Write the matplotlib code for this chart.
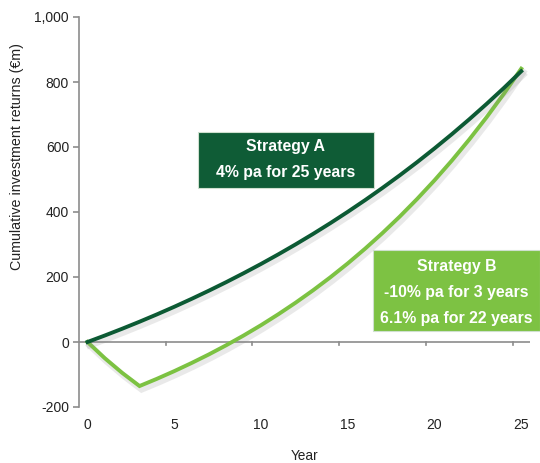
import matplotlib
matplotlib.use("Agg")
import matplotlib.pyplot as plt
import matplotlib.patheffects as pe
from matplotlib.patches import Rectangle

plt.rcParams['font.family'] = ['Liberation Sans', 'DejaVu Sans']

years = list(range(0, 26))
strategy_a = [0, 20, 40.8, 62.4, 84.9, 108.3, 132.7, 158.0, 184.3, 211.7, 240.1,
              269.7, 300.5, 332.5, 365.8, 400.5, 436.5, 474.0, 512.9, 553.4,
              595.6, 639.4, 685.0, 732.4, 781.6, 833.0]
strategy_b = [0, -50, -95, -135.5, -113.3, -89.7, -64.6, -38.1, -9.9, 20.0, 51.7,
              85.4, 121.1, 159.0, 199.2, 241.8, 287.1, 335.1, 386.0, 440.1,
              497.4, 558.2, 622.8, 691.3, 763.9, 841.0]
y_ticks = [-200, 0, 200, 400, 600, 800, 1000]
y_tick_labels = ['-200', '0', '200', '400', '600', '800', '1,000']
x_ticks = [0, 5, 10, 15, 20, 25]
box_a_text = "Strategy A\n4% pa for 25 years"
box_b_text = "Strategy B\n-10% pa for 3 years\n6.1% pa for 22 years"

W, H = 540, 463
fig = plt.figure(figsize=(W / 100, H / 100), dpi=100)
left, right, top, bottom = 78.8, 529.9, 17, 407
ax = fig.add_axes([left / W, 1 - bottom / H, (right - left) / W, (bottom - top) / H])
ax.set_xlim(-0.5, 25.5)
ax.set_ylim(-200, 1000)

dark = '#0c5a34'
light = '#7cc242'
axis_col = '#8c8c8c'

shadow = [pe.SimpleLineShadow(offset=(1.5, -2.5), shadow_color='#888888', alpha=0.18, linewidth=4.5),
          pe.Normal()]
ax.plot(years, strategy_b, color=light, lw=2.8, solid_joinstyle='miter', path_effects=shadow, zorder=3)
ax.plot(years, strategy_a, color=dark, lw=2.8, path_effects=shadow, zorder=4)

for s in ['top', 'right', 'bottom']:
    ax.spines[s].set_visible(False)
ax.spines['left'].set_color(axis_col)
ax.spines['left'].set_linewidth(1.2)
ax.axhline(0, color=axis_col, lw=1.2, zorder=2)
# tick marks between categories on zero line
for xt in [4.5, 9.5, 14.5, 19.5, 24.5]:
    ax.plot([xt, xt], [0, -10], color=axis_col, lw=1.2, zorder=2)

ax.set_yticks(y_ticks)
ax.set_yticklabels(y_tick_labels)
ax.tick_params(axis='y', colors=axis_col, length=4, width=1.2, labelcolor='#222222', labelsize=10, pad=3)
ax.set_xticks(x_ticks)
ax.set_xticklabels([str(x) for x in x_ticks])
ax.tick_params(axis='x', length=0, labelcolor='#222222', labelsize=10, pad=8)

fig.text(17 / W, 1 - 157 / H, 'Cumulative investment returns (€m)', rotation=90,
         ha='center', va='center', fontsize=10.3, color='#222222')
ax.set_xlabel('Year', fontsize=9.8, color='#222222', labelpad=12)

def fig_box(x0, y0, x1, y1, color, text, lines_y):
    fig.patches.append(Rectangle((x0 / W, 1 - y1 / H), (x1 - x0) / W, (y1 - y0) / H,
                                 transform=fig.transFigure, facecolor=color,
                                 edgecolor='#cfe0cf', lw=0.8, zorder=10))
    for t, yy in zip(text.split('\n'), lines_y):
        fig.text((x0 + x1) / 2 / W, 1 - yy / H, t, ha='center', va='center',
                 color='white', fontsize=11.4, fontweight='bold', zorder=11)

fig_box(198, 132, 374, 188, '#0f5c36', box_a_text, [146, 172])
fig_box(373, 250, 540, 331, '#7dc243', box_b_text, [266, 292, 318])

fig.savefig('out.png', dpi=100)
